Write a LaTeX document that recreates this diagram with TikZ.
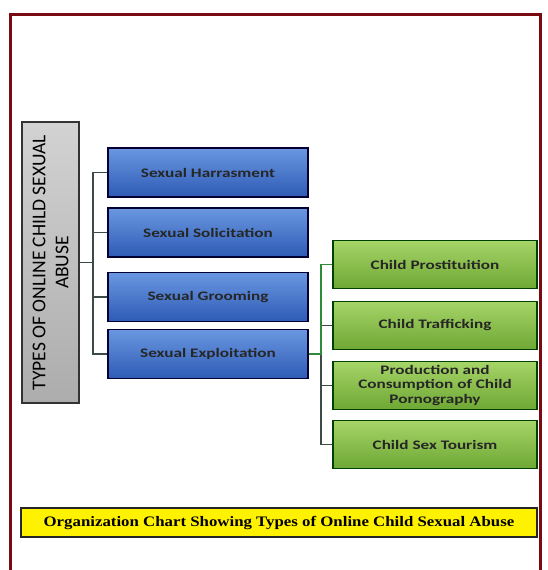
\documentclass[tikz,border=0pt]{standalone}
\usepackage{fontspec}
\setmainfont{Carlito}
\newfontfamily\boxfont[FakeStretch=1.32]{Carlito}
\newfontfamily\capfont[FakeStretch=1.16]{Liberation Serif}
\usepackage{tikz}
\usetikzlibrary{positioning}

\definecolor{frame}{HTML}{7A0A12}
\definecolor{bluetop}{HTML}{6A97E0}
\definecolor{bluebot}{HTML}{2E5BB5}
\definecolor{greentop}{HTML}{A6D468}
\definecolor{greenbot}{HTML}{6EA834}
\definecolor{linkgray}{HTML}{3C4A48}
\definecolor{linkgreen}{HTML}{2F8A3A}

\begin{document}
\begin{tikzpicture}[x=1pt,y=-1pt,
    bluebox/.style={draw=black!80!blue,line width=1.5pt,top color=bluetop,bottom color=bluebot,
      minimum width=200pt,minimum height=49pt,font=\boxfont\fontsize{13}{15}\selectfont\bfseries,text=black!85},
    greenbox/.style={draw=black!75!green,line width=1.5pt,top color=greentop,bottom color=greenbot,
      minimum width=204pt,minimum height=48pt,align=center,font=\boxfont\fontsize{13}{14.5}\selectfont\bfseries,text=black!85},
    link/.style={draw=linkgray,line width=1.5pt}]
		\useasboundingbox (0,0) rectangle (547,570);
		\fill[white] (0,0) rectangle (547,570);
		\draw [frame,line width=3pt] (10,14) rectangle (540,580);
		% root box
		\node (root) at (50.5,262.5) [draw=black!80,line width=1.5pt,top color=gray!35,bottom color=gray!65,
		  minimum width=281pt,minimum height=57pt,rotate=90,align=center,inner sep=1pt,
		  font=\fontsize{19.5}{23}\selectfont] {TYPES OF ONLINE CHILD SEXUAL\\ABUSE};
		% first level
		\node (harass) at (208,172.5) [bluebox] {Sexual Harrasment};
		\node (solicit) at (208,232.5) [bluebox] {Sexual Solicitation};
		\node (groom) at (208,297) [bluebox] {Sexual Grooming};
		\node (exploit) at (208,354) [bluebox] {Sexual Exploitation};
		% second level
		\node (prost) at (435,264.5) [greenbox] {Child Prostituition};
		\node (traffic) at (435,325.5) [greenbox] {Child Trafficking};
		\node (porn) at (435,385.5) [greenbox,inner sep=1pt] {Production and\\Consumption of Child\\Pornography};
		\node (tour) at (435,444.5) [greenbox] {Child Sex Tourism};
		% caption
		\node (caption) at (279,522.5) [draw=black!85,line width=1.5pt,fill=yellow,minimum width=516pt,minimum height=29pt,
		  font=\capfont\fontsize{14.5}{16}\selectfont\bfseries] {Organization Chart Showing Types of Online Child Sexual Abuse};
		% links
		\coordinate (j1) at (93,262.5);
		\coordinate (j2) at (321,354);
		\draw [link] (root.south) -- (j1);
		\foreach \b in {harass,solicit,groom,exploit}
		  \draw [link] (j1) |- (\b.west);
		\foreach \g in {traffic,porn,tour}
		  \draw [link] (j2) |- (\g.west);
		\draw [link,draw=linkgreen] (exploit.east) -- (j2) |- (prost.west);
\end{tikzpicture}
\end{document}
